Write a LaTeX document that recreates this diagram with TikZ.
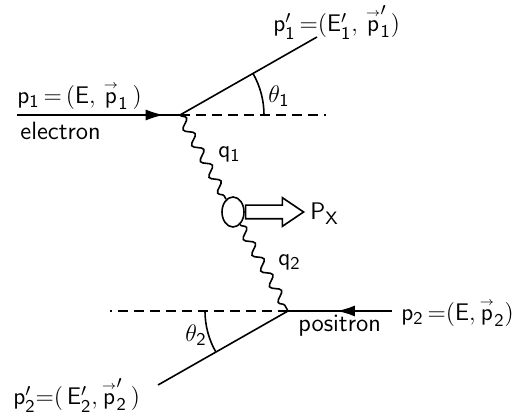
\documentclass[tikz,border=0pt]{standalone}
\usepackage{amsmath,amssymb}
\usepackage{tikz}
\usetikzlibrary{arrows.meta,decorations.pathmorphing,decorations.markings,shapes.geometric,shapes.arrows}

\newcommand{\vp}{\overset{\scriptscriptstyle\rightarrow}{\mathsf{p}}}

\begin{document}
\begin{tikzpicture}[x=0.5pt, y=0.5pt,
      font=\fontsize{12.5}{14}\selectfont\sffamily,
      leg/.style={line width=0.8pt},
      fermion/.style={line width=0.8pt, decoration={markings,
        mark=at position #1 with {\arrow{Latex[length=9pt,width=5.5pt]}}},
        postaction={decorate}},
      fermion/.default=0.5,
      axis/.style={line width=0.8pt, dash pattern=on 5pt off 3pt},
      photon/.style={line width=0.8pt, decorate,
        decoration={snake, segment length=9pt, amplitude=2.2pt}},
      blob/.style={ellipse, draw, line width=0.8pt, minimum width=11pt,
        minimum height=15pt, inner sep=0pt},
      xarrow/.style={single arrow, draw, line width=0.8pt, inner xsep=0pt,
        inner ysep=3pt, minimum width=0pt, minimum height=29pt,
        single arrow head extend=3.75pt, single arrow tip angle=68, anchor=tail},
      lbl/.style={anchor=base west, inner sep=0pt}
    ]
    \useasboundingbox (0,0) rectangle (516,419);

    % --- vertices and free ends ---
    \coordinate (v1) at (180,304);
    \coordinate (v2) at (288,108);
    \coordinate (ein) at (17,304);
    \coordinate (axis1) at (326,304);
    \coordinate (eout) at (317,382);
    \coordinate (pin) at (392,108);
    \coordinate (axis2) at (110,108);
    \coordinate (pout) at (158,34);
    \node[blob] (blob) at (233,207) {};

    % --- upper vertex (electron) ---
    \draw[fermion=0.9] (ein) -- (v1);
    \draw[axis] (v1) -- (axis1);
    \draw[leg] (v1) -- (eout);
    \draw[leg] (v1) ++(42pt,0) arc[start angle=0, end angle=29.65, radius=42pt];

    % --- lower vertex (positron) ---
    \draw[fermion=0.53] (pin) -- (v2);
    \draw[axis] (v2) -- (axis2);
    \draw[leg] (v2) -- (pout);
    \draw[leg] (v2) ++(-41.5pt,0) arc[start angle=180, end angle=209.65, radius=41.5pt];

    % --- photons and hadronic system ---
    \draw[photon] (v1) -- (blob);
    \draw[photon] (blob) -- (v2);
    \node[xarrow] (xarr) at (blob.east) {};

    % --- labels ---
    \node[lbl] (lp1) at (17,315) {$\mathsf{p_1\,{=}\,(E,\,\vp_1\,)}$};
    \node[lbl] (lel) at (20,279) {electron};
    \node[lbl] (lp1p) at (273,387) {$\mathsf{p_1'\,{=}(E_1',\,\vp_1')}$};
    \node[lbl] (lth1) at (268,316) {$\theta_{\mathsf{1}}$};
    \node[lbl] (lq1) at (218,261) {$\mathsf{q_1}$};
    \node[lbl] (lpx) at (310,199) {$\mathsf{P_X}$};
    \node[lbl] (lq2) at (278,153) {$\mathsf{q_2}$};
    \node[lbl] (lpos) at (298,87) {positron};
    \node[lbl] (lp2) at (401,98) {$\mathsf{p_2\,{=}(E,\vp_2)}$};
    \node[lbl] (lth2) at (185,77) {$\theta_{\mathsf{2}}$};
    \node[lbl] (lp2p) at (13,14) {$\mathsf{p_2'{=}(\,E_2',\vp_2'\,)}$};
  \end{tikzpicture}
\end{document}
